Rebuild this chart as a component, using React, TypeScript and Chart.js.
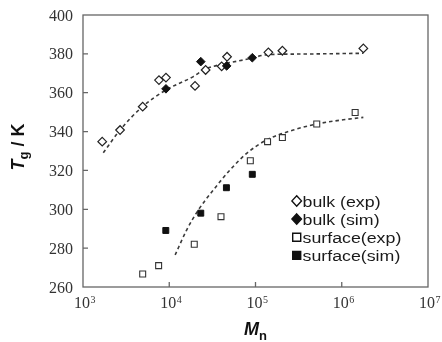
import React, { useEffect, useRef } from "react";
import { Chart, registerables } from "chart.js";

Chart.register(...registerables);

// ---- axis ticks ----
const xTickValues = [1e3, 1e4, 1e5, 1e6, 1e7];
const xTickBase = "10";
const xTickExponents = ["3", "4", "5", "6", "7"];
const yMin = 260;
const yMax = 400;
const yStep = 20;

// ---- bulk (exp): open diamonds ----
const bulkExpM = [1670, 2690, 4920, 7600, 9160, 19900, 26400, 40500, 46800, 141000, 205000, 1780000];
const bulkExpT = [334.8, 340.8, 352.8, 366.5, 367.8, 363.5, 371.7, 373.6, 378.5, 380.8, 381.6, 382.8];

// ---- bulk (sim): filled diamonds ----
const bulkSimM = [9160, 23200, 46300, 91800];
const bulkSimT = [362.0, 376.0, 373.8, 378.0];

// ---- surface (exp): open squares ----
const surfExpM = [4920, 7530, 19500, 39800, 87100, 138000, 205000, 513000, 1430000];
const surfExpT = [266.7, 271.0, 282.0, 296.2, 325.0, 334.8, 336.9, 343.9, 349.8];

// ---- surface (sim): filled squares ----
const surfSimM = [9120, 23200, 46000, 91800];
const surfSimT = [289.1, 298.0, 311.1, 318.0];

// ---- dashed fit curves ----
const bulkFitM = [1720, 2690, 4800, 9160, 19000, 25900, 46300, 79100, 140000, 328000, 1780000];
const bulkFitT = [329.1, 340.8, 352.5, 361.4, 368.3, 372.1, 375.1, 377.2, 379.6, 379.9, 380.3];
const surfFitM = [11700, 15900, 21700, 32400, 50600, 79100, 135000, 274000, 513000, 1140000, 1780000];
const surfFitT = [276.5, 289.3, 299.6, 309.9, 320.2, 328.8, 335.7, 340.8, 343.9, 346.3, 347.3];

// ---- legend ----
const legendLabels = ["bulk (exp)", "bulk (sim)", "surface(exp)", "surface(sim)"];

const toXY = (xs: number[], ys: number[]) => xs.map((x, i) => ({ x, y: ys[i] }));

const SANS = "'Liberation Sans', Arial, sans-serif";
const SERIF = "'Liberation Serif', 'Times New Roman', serif";

const decorPlugin = {
  id: "decor",
  afterDraw(chart: any) {
    const { ctx, chartArea: a, scales } = chart;
    ctx.save();
    // frame
    ctx.strokeStyle = "#666";
    ctx.lineWidth = 1.3;
    ctx.setLineDash([]);
    ctx.strokeRect(a.left, a.top, a.right - a.left, a.bottom - a.top);
    // inward tick marks
    ctx.beginPath();
    scales.x.ticks.forEach((t: any) => {
      const px = scales.x.getPixelForValue(t.value);
      if (px > a.left + 1 && px < a.right - 1) {
        ctx.moveTo(px, a.bottom);
        ctx.lineTo(px, a.bottom - 5);
      }
    });
    scales.y.ticks.forEach((t: any) => {
      const py = scales.y.getPixelForValue(t.value);
      if (py > a.top + 1 && py < a.bottom - 1) {
        ctx.moveTo(a.left, py);
        ctx.lineTo(a.left + 5, py);
      }
    });
    ctx.stroke();

    // tick labels (serif)
    ctx.fillStyle = "#333";
    ctx.textBaseline = "alphabetic";
    const bigSerif = `16px ${SERIF}`;
    const supSerif = `10px ${SERIF}`;
    scales.y.ticks.forEach((t: any) => {
      const py = scales.y.getPixelForValue(t.value);
      ctx.font = bigSerif;
      ctx.textAlign = "right";
      ctx.fillText(String(t.value), a.left - 10, py + 5.6);
    });
    ctx.textAlign = "left";
    scales.x.ticks.forEach((t: any, i: number) => {
      const px = scales.x.getPixelForValue(t.value);
      ctx.font = bigSerif;
      const wb = ctx.measureText(xTickBase).width;
      ctx.font = supSerif;
      const we = ctx.measureText(xTickExponents[i]).width;
      const start = px - (wb + we) / 2 + 1.5;
      ctx.font = bigSerif;
      ctx.fillText(xTickBase, start, 308);
      ctx.font = supSerif;
      ctx.fillText(xTickExponents[i], start + wb + 0.5, 302.5);
    });

    // y title: T_g / K (rotated)
    ctx.fillStyle = "#111";
    ctx.textBaseline = "alphabetic";
    ctx.textAlign = "left";
    const bigB = `bold 18px ${SANS}`;
    const bigBI = `italic bold 18px ${SANS}`;
    const sub = `bold 13px ${SANS}`;
    ctx.save();
    ctx.translate(24, 147);
    ctx.rotate(-Math.PI / 2);
    ctx.font = bigBI;
    const wT = ctx.measureText("T").width;
    ctx.font = sub;
    const wg = ctx.measureText("g").width;
    ctx.font = bigB;
    const wK = ctx.measureText(" / K").width;
    let x0 = -(wT + wg + wK) / 2;
    ctx.font = bigBI;
    ctx.fillText("T", x0, 0);
    x0 += wT;
    ctx.font = sub;
    ctx.fillText("g", x0, 4);
    x0 += wg;
    ctx.font = bigB;
    ctx.fillText(" / K", x0, 0);
    ctx.restore();

    // x title: M_n
    ctx.font = bigBI;
    const wM = ctx.measureText("M").width;
    ctx.font = sub;
    const wn = ctx.measureText("n").width;
    let xm = (a.left + a.right) / 2 - (wM + wn) / 2;
    ctx.font = bigBI;
    ctx.fillText("M", xm, 335);
    xm += wM;
    ctx.font = sub;
    ctx.fillText("n", xm, 340);

    // legend
    const baselines = [206.5, 224.7, 242.8, 261];
    const mx = 296.7;
    baselines.forEach((by, i) => {
      const cy = by - 5.6;
      ctx.lineWidth = 1.4;
      ctx.strokeStyle = "#111";
      ctx.fillStyle = i % 2 === 0 ? "#fff" : "#111";
      ctx.beginPath();
      if (i < 2) {
        ctx.moveTo(mx, cy - 5.2);
        ctx.lineTo(mx + 4.8, cy);
        ctx.lineTo(mx, cy + 5.2);
        ctx.lineTo(mx - 4.8, cy);
        ctx.closePath();
      } else {
        ctx.rect(mx - 4, cy - 4, 8, 8);
      }
      ctx.fill();
      ctx.stroke();
      ctx.save();
      ctx.translate(302.5, by);
      ctx.scale(1.27, 1);
      ctx.font = `14px ${SANS}`;
      ctx.fillStyle = "#1a1a1a";
      ctx.fillText(legendLabels[i], 0, 0);
      ctx.restore();
    });
    ctx.restore();
  },
};

export default function App() {
  const ref = useRef<HTMLCanvasElement | null>(null);

  useEffect(() => {
    if (!ref.current) return;
    const lineBase = {
      type: "line" as const,
      showLine: true,
      borderColor: "#3a3a3a",
      borderWidth: 1.6,
      borderDash: [3.5, 3],
      pointRadius: 0,
      fill: false,
      cubicInterpolationMode: "monotone" as const,
    };
    const chart = new Chart(ref.current, {
      type: "scatter",
      data: {
        datasets: [
          {
            label: "bulk (sim)",
            data: toXY(bulkSimM, bulkSimT),
            pointStyle: "rectRot",
            pointRadius: 4.3,
            backgroundColor: "#111",
            borderColor: "#111",
            borderWidth: 1,
          },
          {
            label: "surface (sim)",
            data: toXY(surfSimM, surfSimT),
            pointStyle: "rect",
            pointRadius: 4.2,
            backgroundColor: "#111",
            borderColor: "#111",
            borderWidth: 1,
          },
          {
            label: "bulk (exp)",
            data: toXY(bulkExpM, bulkExpT),
            pointStyle: "rectRot",
            pointRadius: 4.3,
            backgroundColor: "#fff",
            borderColor: "#222",
            borderWidth: 1.2,
          },
          {
            label: "surface (exp)",
            data: toXY(surfExpM, surfExpT),
            pointStyle: "rect",
            pointRadius: 4.2,
            backgroundColor: "#fff",
            borderColor: "#333",
            borderWidth: 1.1,
          },
          { ...lineBase, label: "bulk fit", data: toXY(bulkFitM, bulkFitT) },
          { ...lineBase, label: "surface fit", data: toXY(surfFitM, surfFitT) },
        ] as any,
      },
      options: {
        animation: false,
        responsive: false,
        maintainAspectRatio: false,
        devicePixelRatio: 1,
        layout: { padding: { top: 15, right: 14, left: 0, bottom: 0 } },
        plugins: {
          legend: { display: false },
          tooltip: { enabled: false },
        },
        scales: {
          x: {
            type: "logarithmic",
            min: 1e3,
            max: 1e7,
            grid: { display: false, drawTicks: false },
            border: { display: false },
            afterBuildTicks: (s: any) => {
              s.ticks = xTickValues.map((v) => ({ value: v }));
            },
            afterFit: (s: any) => {
              s.height = 55;
              s.paddingLeft = 0;
              s.paddingRight = 0;
            },
            ticks: { display: false, autoSkip: false, maxRotation: 0 },
          },
          y: {
            type: "linear",
            min: yMin,
            max: yMax,
            grid: { display: false, drawTicks: false },
            border: { display: false },
            afterFit: (s: any) => {
              s.width = 83;
              s.paddingTop = 0;
              s.paddingBottom = 0;
            },
            ticks: { display: false, stepSize: yStep },
          },
        },
      } as any,
      plugins: [decorPlugin],
    });
    return () => chart.destroy();
  }, []);

  return (
    <div style={{ position: "fixed", left: 0, top: 0, width: 442, height: 342, background: "#fff" }}>
      <canvas ref={ref} width={442} height={342} style={{ display: "block" }} />
    </div>
  );
}
